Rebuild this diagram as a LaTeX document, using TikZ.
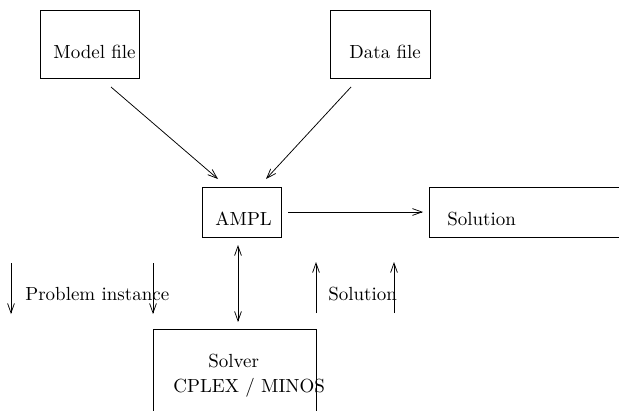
\documentclass[tikz,border=0pt]{standalone}
\usetikzlibrary{arrows.meta, calc, positioning}

\tikzset{
  box/.style = {draw, thin, inner sep=0pt, anchor=north west},
  txt/.style = {inner sep=0pt, anchor=base west},
  tip/.tip = {Straight Barb[length=5pt, width=3.6pt]},
  flow/.style = {thin, -tip},
  both/.style = {thin, tip-tip},
}

\begin{document}
\begin{tikzpicture}[x=0.527pt, y=-0.527pt]
  \useasboundingbox (0,0) rectangle (619,410);
  \clip (0,0) rectangle (619,410);

  % boxes
  \node [box, minimum width=52.2pt, minimum height=35.8pt] (model)  at (40,10)   {};
  \node [box, minimum width=52.7pt, minimum height=35.8pt] (data)   at (330,10)  {};
  \node [box, minimum width=41.6pt, minimum height=26.4pt] (ampl)   at (202,187) {};
  \node [box, minimum width=111pt,  minimum height=26.4pt] (sol)    at (429,187) {};
  \node [box, minimum width=85.9pt, minimum height=53.2pt] (solver) at (153,329) {};

  % texts
  \node [txt] (modeltxt)  at (53,58)   {Model file};
  \node [txt] (datatxt)   at (349,58)  {Data file};
  \node [txt] (ampltxt)   at (215,225) {AMPL};
  \node [txt] (soltxt)    at (447,225) {Solution};
  \node [txt] (probtxt)   at (25,300)  {Problem instance};
  \node [txt] (backtxt)   at (328,300) {Solution};
  \node [txt] (solvertxt) at (208,367) {Solver};
  \node [txt] (cplextxt)  at (173,392) {CPLEX / MINOS};

  % arrow ends
  \coordinate (A1) at (111,87);  \coordinate (A2) at (218,179);
  \coordinate (B1) at (351,87);  \coordinate (B2) at (266,179);
  \coordinate (C1) at (288,212); \coordinate (C2) at (423,212);
  \coordinate (D1) at (238,245); \coordinate (D2) at (238,322);

  \draw [flow] (A1) -- (A2);
  \draw [flow] (B1) -- (B2);
  \draw [flow] (C1) -- (C2);
  \draw [both] (D1) -- (D2);

  \foreach \x in {11,153}
    \draw [flow] (\x,263) -- (\x,314);
  \foreach \x in {316,394}
    \draw [flow] (\x,313) -- (\x,262);
\end{tikzpicture}
\end{document}
